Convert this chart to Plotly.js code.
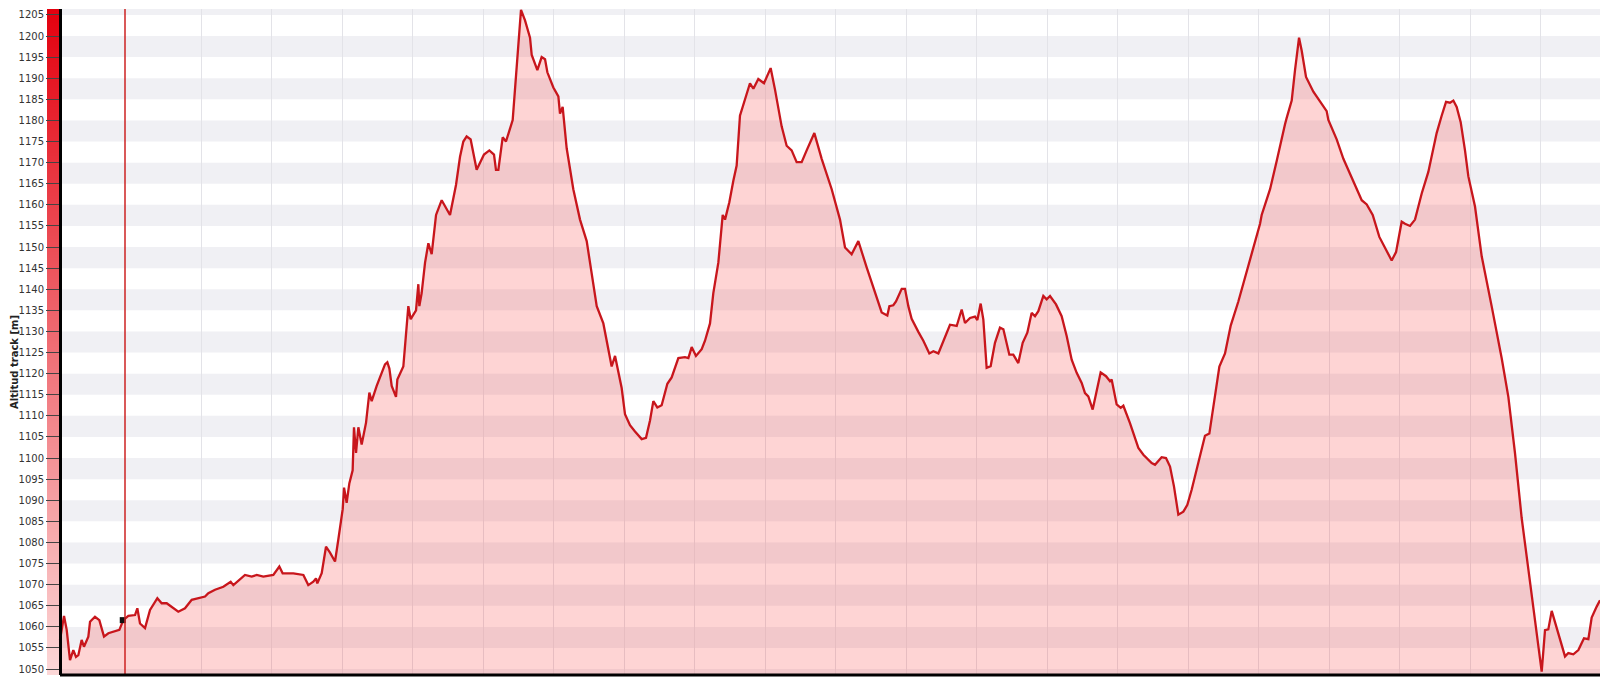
<!DOCTYPE html>
<html><head><meta charset="utf-8">
<script src="https://cdn.plot.ly/plotly-3.0.1.min.js"></script>
<style>html,body{margin:0;padding:0;background:#fff}#chart{width:1600px;height:677px}</style>
</head><body><div id="chart"></div>
<script>
// Distance along track (km) and altitude (m)
const distanceKm = [
0,0.057,0.095,0.142,0.189,0.227,0.26,0.307,0.34,0.402,0.426,0.496,0.558,0.624,0.686,0.78,0.842,0.898,0.969,1.064,
1.097,1.135,1.206,1.277,1.381,1.442,1.513,1.678,1.773,1.868,1.962,2.057,2.104,2.199,2.317,2.421,2.459,2.624,2.719,2.79,
2.884,3.026,3.111,3.158,3.31,3.452,3.522,3.593,3.631,3.65,3.712,3.773,
3.830,3.901,3.948,4.010,4.029,4.066,4.104,4.151,4.170,4.199,4.232,4.279,4.341,4.388,4.421,4.492,4.610,4.643,4.672,4.705,
4.766,4.785,4.870,4.927,4.941,4.974,5.050,5.083,5.097,5.130,5.178,5.225,5.272,5.334,5.414,5.532,5.617,5.674,5.721,5.768,
5.825,5.910,6.014,6.090,6.156,6.184,6.218,6.279,6.326,6.421,6.454,6.501,6.539,6.596,6.667,6.691,6.771,6.832,6.880,6.913,
6.998,7.069,7.092,7.130,7.187,7.281,7.376,7.471,7.565,7.613,7.707,7.825,7.873,7.967,8.014,8.085,8.156,8.251,8.312,8.369,
8.416,8.473,8.534,8.615,8.676,8.771,8.865,8.913,8.96,9.021,9.102,9.149,9.220,9.267,9.338,9.400,9.433,9.494,9.551,9.598,
9.645,9.693,9.74,9.787,9.835,9.905,9.986,10.080,10.142,10.236,10.307,10.378,10.449,10.520,10.591,10.700,10.804,10.946,11.064,11.135,
11.229,11.324,11.442,11.560,11.655,11.735,11.764,11.820,11.858,11.939,11.986,12.033,12.080,12.175,12.246,12.331,12.388,12.459,12.530,
12.624,12.719,12.79,12.837,12.908,12.979,13.012,13.059,13.097,13.144,13.201,13.262,13.333,13.381,13.428,13.466,13.522,13.593,13.655,13.721,
13.782,13.830,13.877,13.948,13.995,14.043,14.128,14.208,14.279,14.350,14.421,14.492,14.539,14.586,14.648,14.704,14.761,14.837,14.894,14.917,
14.988,15.045,15.083,15.177,15.296,15.367,15.485,15.532,15.626,15.688,15.745,15.801,15.863,15.934,15.991,16.052,16.147,
16.241,16.303,16.36,16.445,16.525,16.606,16.714,16.833,16.918,17.022,17.045,17.126,17.164,17.258,17.329,17.376,17.4,17.471,17.518,17.575,
17.613,17.674,17.778,17.873,17.967,17.991,18.109,18.204,18.298,18.393,18.464,18.535,18.62,18.714,18.795,18.889,18.951,19.031,19.078,19.149,
19.22,19.315,19.409,19.527,19.598,19.66,19.716,19.764,19.811,19.868,19.929,19.976,20.071,20.166,20.307,20.449,20.544,20.638,20.733,20.828,
20.922,21.017,21.064,21.111,21.159,21.206,21.277,21.348,21.395,21.466,21.537,21.617,21.679,21.726,21.797,21.844
];
const altitudeM = [
1056.9,1062.6,1059.3,1052.1,1054.5,1052.9,1053.3,1056.9,1055.3,1057.7,1061.2,1062.4,1061.6,1057.7,1058.5,1058.9,1059.3,1061.6,1062.6,1062.8,
1064.4,1060.8,1059.7,1064.0,1066.8,1065.6,1065.6,1063.6,1064.4,1066.4,1066.8,1067.2,1068.0,1068.8,1069.5,1070.7,1069.9,1072.3,1071.9,1072.3,
1071.9,1072.3,1074.3,1072.7,1072.7,1072.3,1069.9,1070.7,1071.5,1070.3,1072.7,1079.0,
1077.6,1075.5,1080.7,1087.9,1093.0,1089.4,1094.0,1097.1,1107.3,1101.2,1107.3,1103.2,1108.4,1115.5,1113.5,1117.1,1122.2,1122.7,1121.2,1117.1,
1114.5,1118.6,1121.7,1132.4,1136.0,1132.9,1135.0,1141.2,1136.0,1139.1,1146.3,1150.9,1148.3,1157.6,1161.1,1157.6,1164.7,1171.4,1175.0,1176.2,
1175.5,1168.3,1171.9,1172.9,1171.9,1168.3,1168.3,1176.0,1175.0,1180.1,1187.3,1198.6,1206.2,1203.7,1199.6,1195.5,1191.9,1195.0,1194.5,1191.4,
1187.8,1185.7,1181.6,1183.2,1173.4,1163.7,1156.5,1151.4,1141.1,1136.0,1131.9,1121.7,1124.2,1116.6,1110.4,1107.8,1106.3,1104.5,1104.8,1108.9,
1113.5,1112.0,1112.5,1117.6,1119.1,1123.7,1123.9,1123.7,1126.3,1124.2,1125.8,1127.8,1131.9,1139.1,1146.3,1157.6,1156.5,1160.6,1165.7,1169.3,
1181.1,1183.7,1185.7,1188.8,1187.5,1189.8,1188.8,1192.4,1187.3,1178.6,1174.0,1172.9,1170.1,1170.1,1172.9,1177.0,1170.9,1163.7,1156.5,1149.9,
1148.3,1151.4,1145.2,1139.1,1134.5,1133.8,1136.0,1136.2,1137.1,1140.1,1140.1,1136.0,1133.0,1129.9,1127.8,1124.8,1125.3,1124.8,1127.8,
1131.6,1131.3,1135.2,1132.0,1133.2,1133.5,1132.7,1136.6,1132.8,1121.4,1121.8,1127.3,1130.9,1130.5,1127.3,1124.5,1124.5,1122.5,1127.3,1129.7,
1134.4,1133.6,1134.8,1138.4,1137.6,1138.4,1136.4,1133.6,1128.9,1123.3,1120.2,1117.8,1115.4,1114.6,1111.5,1116.2,1120.3,1119.4,1118.2,1118.6,
1112.7,1111.9,1112.4,1108.3,1102.4,1100.8,1098.8,1098.4,1100.2,1100.0,1098.0,1093.3,1086.6,1087.3,1088.9,1092.5,1098.8,
1105.3,1105.8,1112.5,1121.7,1124.8,1131.4,1137.1,1144.2,1149.9,1155.5,1157.6,1161.7,1163.7,1170.4,1176.0,1179.1,1180.6,1184.7,1191.9,1199.6,
1196.5,1190.3,1186.8,1184.4,1182.2,1180.1,1175.5,1170.9,1167.3,1163.7,1161.1,1160.1,1157.6,1152.4,1149.9,1146.8,1148.8,1156.0,1155.5,1155.0,
1156.5,1162.7,1167.8,1177.0,1181.1,1184.4,1184.2,1184.7,1183.2,1179.6,1172.9,1166.8,1159.6,1147.8,1136.0,1123.7,1114.5,1101.2,1085.8,1073.5,
1061.2,1049.4,1059.2,1059.4,1063.8,1061.2,1057.1,1053.0,1053.8,1053.5,1054.5,1057.3,1057.1,1062.2,1064.8,1066.3
];
const yTickVals = [1050,1055,1060,1065,1070,1075,1080,1085,1090,1095,1100,1105,1110,1115,1120,1125,1130,1135,1140,1145,1150,1155,1160,1165,1170,1175,1180,1185,1190,1195,1200,1205];
const xGridVals = [2,3,4,5,6,7,8,9,10,11,12,13,14,15,16,17,18,19,20,21];
const yRange = [1048.6, 1206.4];
const xRange = [-0.1844, 21.844];
const cursorKm = 0.922;
const markerKm = [0.89];
const markerAlt = [1061.6];
const yTitle = 'Altitud track [m]';

const shapes = [];
for (let v = 1045; v < yRange[1]; v += 10) {
  shapes.push({type:'rect', layer:'below', xref:'x', yref:'y',
    x0:0, x1:xRange[1], y0:Math.max(v, yRange[0]), y1:Math.min(v+5, yRange[1]),
    fillcolor:'#f0f0f4', line:{width:0}});
}
shapes.push({type:'line', xref:'x', yref:'paper', x0:cursorKm, x1:cursorKm, y0:0, y1:1,
  line:{color:'#cc2222', width:1.5}});
shapes.push({type:'line', xref:'x', yref:'paper', x0:0, x1:xRange[1], y0:0, y1:0,
  line:{color:'#000', width:3}});

const traces = [
  {type:'heatmap', x:[xRange[0], 0], y:yRange, z:[[yRange[0]],[yRange[1]]],
   zsmooth:'best', showscale:false, hoverinfo:'skip',
   colorscale:[[0,'#fcd8d8'],[1,'#e3000e']]},
  {type:'scatter', mode:'lines', x:distanceKm, y:altitudeM, fill:'tozeroy',
   fillcolor:'rgba(250,40,40,0.2)', line:{color:'#c8161c', width:2.3}, hoverinfo:'skip'},
  {type:'scatter', mode:'markers', x:markerKm, y:markerAlt,
   marker:{symbol:'square', size:6, color:'#111'}, hoverinfo:'skip'}
];

const layout = {
  width:1600, height:677,
  margin:{l:47, r:0, t:9, b:2},
  paper_bgcolor:'#fff', plot_bgcolor:'#fff',
  showlegend:false,
  font:{family:'DejaVu Sans, Verdana, sans-serif', color:'#333'},
  xaxis:{range:xRange, tickvals:xGridVals, showgrid:true, gridcolor:'#e3e3e8', gridwidth:1,
    showticklabels:false, ticks:'', zeroline:false, showline:false},
  yaxis:{range:yRange, tickvals:yTickVals, ticktext:yTickVals.map(String),
    anchor:'free', position:13/1553,
    ticks:'outside', ticklen:13, tickcolor:'#444', tickwidth:1,
    showline:true, linecolor:'#000', linewidth:3, showgrid:false, zeroline:false,
    tickfont:{family:'DejaVu Sans, Verdana, sans-serif', size:10, color:'#333'}},
  shapes:shapes,
  annotations:[{xref:'paper', yref:'paper', x:-0.0206, y:0.47, xanchor:'center', yanchor:'middle',
    text:'<b>'+yTitle+'</b>', textangle:-90, showarrow:false,
    font:{family:'DejaVu Sans, Verdana, sans-serif', size:10, color:'#222'}}]
};

Plotly.newPlot('chart', traces, layout, {staticPlot:true, displayModeBar:false});
</script>
</body></html>
